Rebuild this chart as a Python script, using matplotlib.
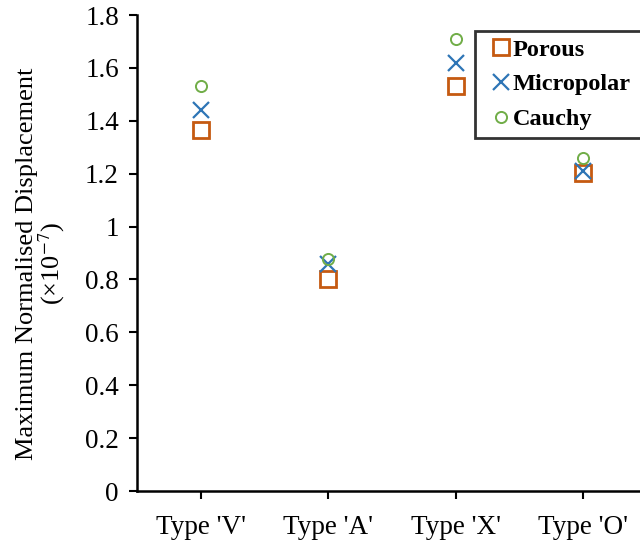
import matplotlib
matplotlib.use("Agg")
import matplotlib.pyplot as plt

plt.rcParams['font.family'] = ['Liberation Serif', 'DejaVu Serif']
plt.rcParams['mathtext.fontset'] = 'stix'

categories = ["Type 'V'", "Type 'A'", "Type 'X'", "Type 'O'"]
porous = [1.365, 0.802, 1.532, 1.203]
micropolar = [1.441, 0.859, 1.619, 1.212]
cauchy = [1.532, 0.877, 1.710, 1.260]

fig = plt.figure(figsize=(6.4, 5.44), dpi=100)
ax = fig.add_axes([0.214, 0.0974, 0.797, 0.875])

x = [i + 0.5 for i in range(len(categories))]
ax.plot(x, porous, linestyle='none', marker='s', markersize=11, markerfacecolor='none',
        markeredgecolor='#C55A11', markeredgewidth=2, label='Porous')
ax.plot(x, micropolar, linestyle='none', marker='x', markersize=11,
        color='#2E75B6', markeredgewidth=1.6, label='Micropolar')
ax.plot(x, cauchy, linestyle='none', marker='o', markersize=8, markerfacecolor='none',
        markeredgecolor='#70AD47', markeredgewidth=1.4, label='Cauchy')

ax.set_xlim(0, 4)
ax.set_ylim(0, 1.8)
ax.set_xticks(x)
ax.set_xticklabels(categories)
ax.set_yticks([0, 0.2, 0.4, 0.6, 0.8, 1, 1.2, 1.4, 1.6, 1.8])
ax.set_yticklabels(['0', '0.2', '0.4', '0.6', '0.8', '1', '1.2', '1.4', '1.6', '1.8'])
ax.tick_params(axis='both', labelsize=19.5, direction='out', length=6, width=1.5, pad=7)
ax.tick_params(axis='x', pad=11)
for s in ['top', 'right']:
    ax.spines[s].set_visible(False)
for s in ['left', 'bottom']:
    ax.spines[s].set_linewidth(1.8)

ax.set_ylabel('Maximum Normalised Displacement\n(×10$^{-7}$)', fontsize=19, linespacing=0.9)
ax.yaxis.set_label_coords(-0.138, 0.478)

leg = ax.legend(loc='upper left', bbox_to_anchor=(0.663, 0.75, 0.4, 0.216), mode='expand',
                frameon=True, fancybox=False,
                handlelength=1.5, handletextpad=-0.25, borderpad=0.3, labelspacing=0.53,
                borderaxespad=0, prop={'weight': 'bold', 'size': 17.5})
leg.get_frame().set_edgecolor('black')
leg.get_frame().set_linewidth(2)

fig.savefig('out.png', dpi=100)
